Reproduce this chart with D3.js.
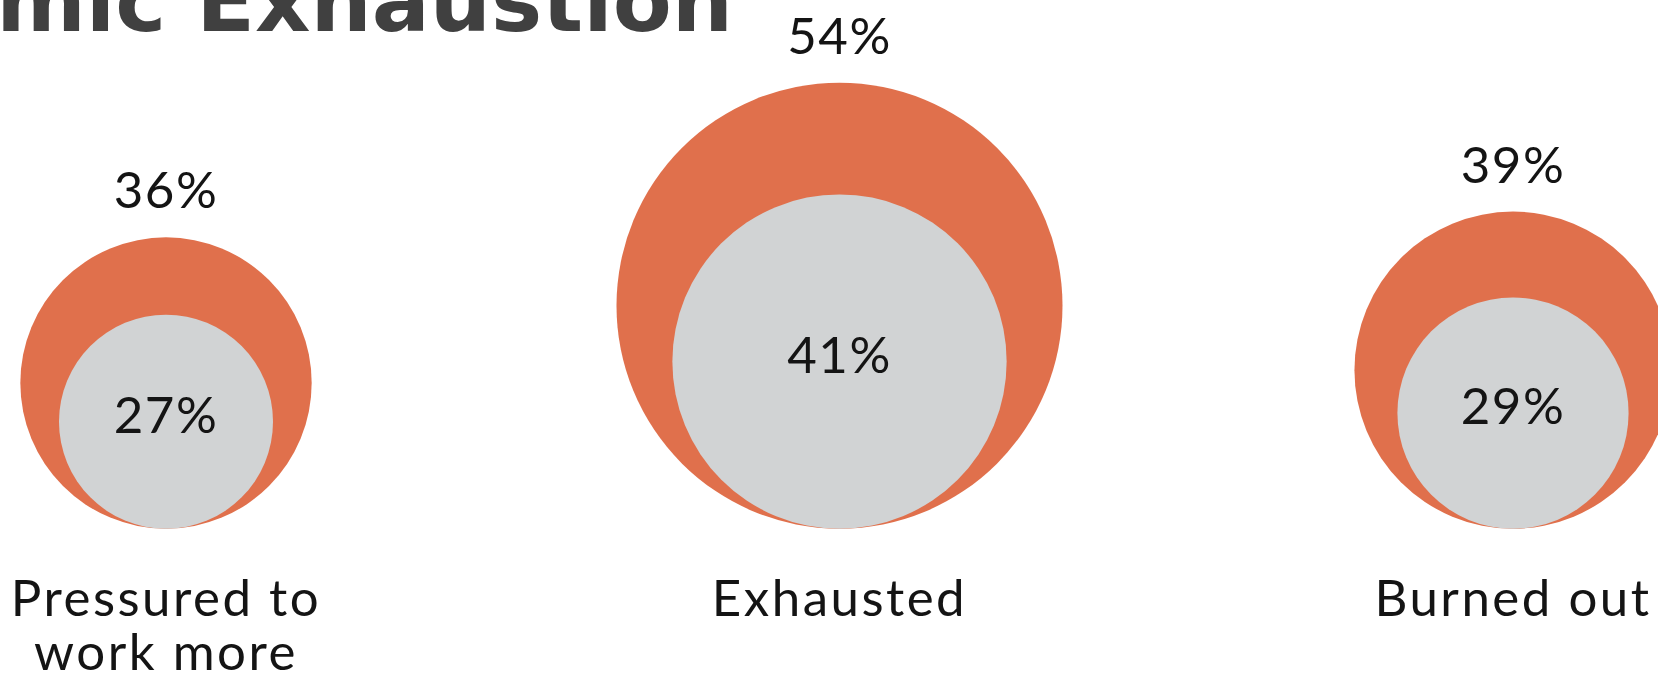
<!DOCTYPE html>
<html>
<head>
<meta charset="utf-8">
<script src="https://cdn.jsdelivr.net/npm/d3@7"></script>
<style>
  html, body { margin: 0; padding: 0; background: #ffffff; overflow: hidden; }
  svg { display: block; }
</style>
</head>
<body>
<svg id="chart" width="1658" height="677"></svg>
<script>
// ---- data ----
const title = "Pandemic Exhaustion";
const categories = ["Pressured to work more", "Exhausted", "Burned out"];
const labelLines = [["Pressured to", "work more"], ["Exhausted"], ["Burned out"]];
const outerValues = [36, 54, 39];   // orange circles
const innerValues = [27, 41, 29];   // grey circles

const W = 1658, H = 677;
const svg = d3.select("#chart");

const data = categories.map((c, i) => ({
  cat: c, lines: labelLines[i], outer: outerValues[i], inner: innerValues[i]
}));

// scales
const x = d3.scalePoint().domain(categories).range([166, 1513]);
const r = d3.scaleLinear().domain([27, 54]).range([107, 223]);
const baseY = 528.7;   // circles share a common bottom

const font = "Lato, 'Open Sans', sans-serif";
const textColor = "#141414";

// title (partially cropped at the top, as in the reference)
svg.append("text")
  .attr("x", 733).attr("y", 31)
  .attr("text-anchor", "end")
  .attr("font-family", "'DejaVu Sans', sans-serif")
  .attr("font-weight", "bold")
  .attr("font-size", 86)
  .attr("fill", "#404040")
  .text(title);

const g = svg.selectAll("g.item").data(data).join("g").attr("class", "item");

g.append("circle")
  .attr("cx", d => x(d.cat))
  .attr("cy", d => baseY - r(d.outer))
  .attr("r", d => r(d.outer))
  .attr("fill", "#E0704C");

g.append("circle")
  .attr("cx", d => x(d.cat))
  .attr("cy", d => baseY - r(d.inner))
  .attr("r", d => r(d.inner))
  .attr("fill", "#D1D3D4");

// outer value label above circle
g.append("text")
  .attr("x", d => x(d.cat))
  .attr("y", d => baseY - 2 * r(d.outer) - 29)
  .attr("text-anchor", "middle")
  .attr("font-family", font)
  .attr("font-size", 51)
  .attr("letter-spacing", 1.5)
  .attr("fill", textColor)
  .text(d => d.outer + "%");

// inner value label
g.append("text")
  .attr("x", d => x(d.cat))
  .attr("y", d => baseY - r(d.inner) + 11)
  .attr("text-anchor", "middle")
  .attr("font-family", font)
  .attr("font-size", 51)
  .attr("letter-spacing", 1.5)
  .attr("fill", textColor)
  .text(d => d.inner + "%");

// category labels
g.each(function(d) {
  const t = d3.select(this).append("text")
    .attr("text-anchor", "middle")
    .attr("font-family", font)
    .attr("font-size", 51)
    .attr("letter-spacing", 2.5)
    .attr("fill", textColor);
  d.lines.forEach((ln, j) => {
    t.append("tspan")
      .attr("x", x(d.cat))
      .attr("y", 616 + j * 54)
      .text(ln);
  });
});
</script>
</body>
</html>
